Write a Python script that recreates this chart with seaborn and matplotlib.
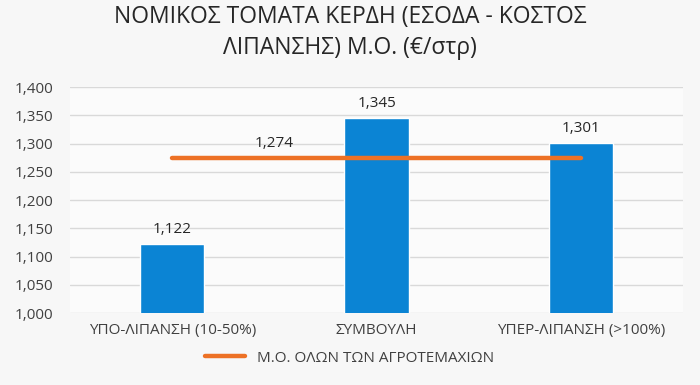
import matplotlib as mpl
mpl.use("Agg")
import matplotlib.pyplot as plt
import matplotlib.ticker as mticker
import numpy as np
import pandas as pd
import seaborn as sns

categories = ["ΥΠΟ-ΛΙΠΑΝΣΗ (10-50%)", "ΣΥΜΒΟΥΛΗ", "ΥΠΕΡ-ΛΙΠΑΝΣΗ (>100%)"]
profit = [1122, 1345, 1301]
avg_all = 1274
avg_label = "Μ.Ο. ΟΛΩΝ ΤΩΝ ΑΓΡΟΤΕΜΑΧΙΩΝ"
title = "ΝΟΜΙΚΟΣ ΤΟΜΑΤΑ ΚΕΡΔΗ (ΕΣΟΔΑ - ΚΟΣΤΟΣ\nΛΙΠΑΝΣΗΣ) Μ.Ο. (€/στρ)"

sns.set_theme(style="white")
plt.rcParams["font.family"] = ["Open Sans", "DejaVu Sans"]

df = pd.DataFrame({"cat": categories, "value": profit})

fig = plt.figure(figsize=(7, 3.85), dpi=100, facecolor="#f7f7f7")
ax = fig.add_axes([0.1, 0.187, 0.876, 0.587])
ax.set_facecolor("#fbfbfb")

sns.barplot(data=df, x="cat", y="value", color="#0b84d4", saturation=1,
            width=0.315, ax=ax, zorder=2)

ax.plot(range(len(categories)), [avg_all] * len(categories), color="#ed7125",
        lw=3.2, solid_capstyle="round", zorder=3, label=avg_label)

for i, v in enumerate(profit):
    ax.text(i, v + 12, f"{v:,}", ha="center", va="bottom", fontsize=11, color="#262626")
ax.text(0.5, avg_all + 12, f"{avg_all:,}", ha="center", va="bottom", fontsize=11, color="#262626")

ax.set_ylim(1000, 1400)
ax.set_yticks(np.arange(1000, 1401, 50))
ax.yaxis.set_major_formatter(mticker.FuncFormatter(lambda x, p: f"{int(x):,}"))
ax.set_xlim(-0.5, 2.5)
ax.grid(axis="y", color="#d9d9d9", lw=1, zorder=0)
ax.set_axisbelow(True)
for s in ax.spines.values():
    s.set_visible(False)
ax.set_xlabel("")
ax.set_ylabel("")
ax.tick_params(axis="both", length=0, labelsize=11, colors="#404040", pad=7)
ax.tick_params(axis="y", pad=12)

fig.suptitle(title, y=0.988, fontsize=16.5, color="#262626", linespacing=1.4)

fig.legend(loc="center", bbox_to_anchor=(0.5, 0.07), frameon=False,
           fontsize=11, handlelength=2.6, labelcolor="#404040")

fig.savefig("out.png", dpi=100, facecolor=fig.get_facecolor())
